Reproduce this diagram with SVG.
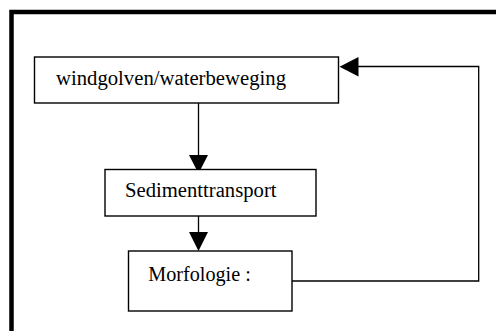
<svg xmlns="http://www.w3.org/2000/svg" width="496" height="331" viewBox="0 0 496 331">
<style>
.box{fill:#fff;stroke:#000;stroke-width:1.4}
.lbl{font-family:"Liberation Serif","Times New Roman",serif;font-size:20px;fill:#000}
.con{fill:none;stroke:#000;stroke-width:1.3}
.head{fill:#000;stroke:none}
</style>
<rect x="0" y="0" width="496" height="331" fill="#fff"/>
<rect id="frame" x="11.5" y="12" width="540" height="360" fill="none" stroke="#000" stroke-width="4.5"/>
<g id="connectors">
<line class="con" x1="198.5" y1="103" x2="198.5" y2="156"/>
<polygon class="head" points="189,155 208,155 198.5,173.5"/>
<line class="con" x1="198.5" y1="216" x2="198.5" y2="233"/>
<polygon class="head" points="189,232 208,232 198.5,251"/>
<polyline class="con" points="292,281 478.7,281 478.7,66.5 357,66.5"/>
<polygon class="head" points="358.5,57 358.5,76.5 339.5,66.7"/>
</g>
<g id="n1">
<rect class="box" x="34.5" y="57" width="304" height="46"/>
<text class="lbl" x="56" y="85" textLength="230" lengthAdjust="spacingAndGlyphs">windgolven/waterbeweging</text>
</g>
<g id="n2">
<rect class="box" x="105" y="169.5" width="211" height="46.5"/>
<text class="lbl" x="125" y="197.3" textLength="151.5" lengthAdjust="spacingAndGlyphs">Sedimenttransport</text>
</g>
<g id="n3">
<rect class="box" x="128.5" y="251" width="163.5" height="60"/>
<text class="lbl" x="148.3" y="281" textLength="102.5" lengthAdjust="spacingAndGlyphs">Morfologie :</text>
</g>
</svg>
